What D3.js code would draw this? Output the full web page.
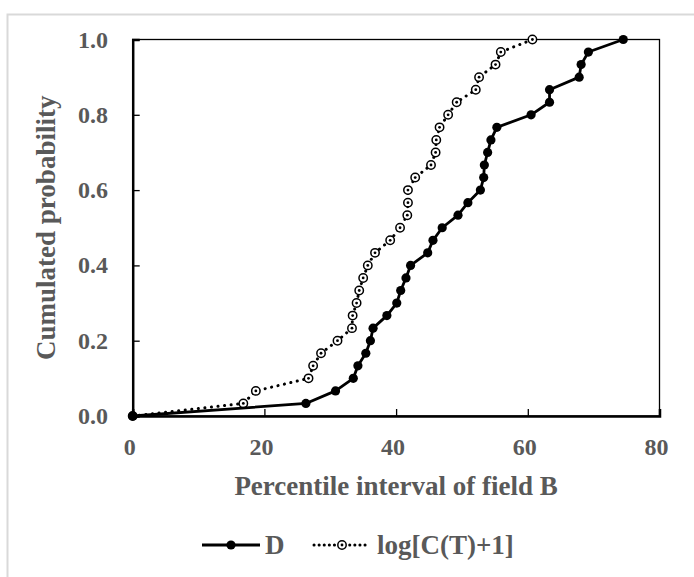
<!DOCTYPE html>
<html>
<head>
<meta charset="utf-8">
<script src="https://cdn.jsdelivr.net/npm/d3@7"></script>
<style>
  body { margin: 0; background: #fff; }
  svg { display: block; }
  text { font-family: "Liberation Serif", "Times New Roman", serif; font-weight: bold; fill: #595959; }
</style>
</head>
<body>
<svg id="chart" width="694" height="577"></svg>
<script>
// cumulative probability steps (k/30)
var probs = d3.range(31).map(function(k) { return k / 30; });

// percentile interval values, one per step
var dValues = [0, 26.3, 30.8, 33.5, 34.2, 35.4, 36.1, 36.5, 38.6, 40.1,
               40.7, 41.5, 42.2, 44.8, 45.6, 47.0, 49.4, 50.9, 52.8, 53.3,
               53.4, 53.9, 54.4, 55.3, 60.5, 63.3, 63.3, 67.8, 68.1, 69.2, 74.5];
var logValues = [0, 16.8, 18.7, 26.7, 27.4, 28.6, 31.1, 33.3, 33.4, 34.0,
                 34.4, 35.0, 35.7, 36.8, 39.1, 40.6, 41.7, 41.8, 41.8, 42.9,
                 45.3, 46.0, 46.1, 46.6, 47.9, 49.2, 52.1, 52.6, 55.1, 55.9, 60.7];

var xTicks = [0, 20, 40, 60, 80];
var yTicks = [0, 0.2, 0.4, 0.6, 0.8, 1.0];

var svg = d3.select('#chart');

// light outer frame
svg.append('path')
    .attr('d', 'M7.5,577 L7.5,14.5 L694,14.5')
    .attr('fill', 'none')
    .attr('stroke', '#d9d9d9')
    .attr('stroke-width', 2);

var plot = {l: 132.7, r: 659.5, t: 39.5, b: 416};

var xScale = d3.scaleLinear().domain([0, 80]).range([plot.l, plot.r]);
var yScale = d3.scaleLinear().domain([0, 1]).range([plot.b, plot.t]);

// plot box
svg.append('rect')
    .attr('x', plot.l).attr('y', plot.t)
    .attr('width', plot.r - plot.l).attr('height', plot.b - plot.t)
    .attr('fill', 'none')
    .attr('stroke', '#000')
    .attr('stroke-width', 1.3);

// axes with ticks pointing inside
var xAxisG = svg.append('g')
    .attr('transform', 'translate(0,' + plot.b + ')')
    .call(d3.axisTop(xScale).tickValues(xTicks).tickSize(7).tickFormat(''));
xAxisG.select('.domain').attr('stroke-width', 2.5);
xAxisG.selectAll('.tick line').attr('stroke-width', 1.3);

var yAxisG = svg.append('g')
    .attr('transform', 'translate(' + plot.l + ',0)')
    .call(d3.axisRight(yScale).tickValues(yTicks).tickSize(7).tickFormat(''));
yAxisG.select('.domain').attr('stroke-width', 2.5);
yAxisG.selectAll('.tick line').attr('stroke-width', 1.3);

// tick labels
svg.selectAll('.xlab')
    .data(xTicks).enter()
    .append('text')
    .attr('x', function(d) { return xScale(d) - 3; })
    .attr('y', 455)
    .attr('text-anchor', 'middle')
    .style('font-size', '24px')
    .text(function(d) { return d; });

svg.selectAll('.ylab')
    .data(yTicks).enter()
    .append('text')
    .attr('x', 108)
    .attr('y', function(d) { return yScale(d) + 8; })
    .attr('text-anchor', 'end')
    .style('font-size', '24px')
    .text(function(d) { return d3.format('.1f')(d); });

// axis titles
svg.append('text')
    .attr('x', (plot.l + plot.r) / 2)
    .attr('y', 495)
    .attr('text-anchor', 'middle')
    .style('font-size', '27px')
    .text('Percentile interval of field B');

svg.append('text')
    .attr('transform', 'translate(55,' + ((plot.t + plot.b) / 2) + ') rotate(-90)')
    .attr('text-anchor', 'middle')
    .style('font-size', '27px')
    .text('Cumulated probability');

var line = d3.line()
    .x(function(d) { return xScale(d[0]); })
    .y(function(d) { return yScale(d[1]); });

var dData = dValues.map(function(v, i) { return [v, probs[i]]; });
var logData = logValues.map(function(v, i) { return [v, probs[i]]; });

// dotted series
svg.append('path')
    .datum(logData)
    .attr('d', line)
    .attr('fill', 'none')
    .attr('stroke', '#000')
    .attr('stroke-width', 3)
    .attr('stroke-linecap', 'round')
    .attr('stroke-dasharray', '0.1 6.5');

function ringMarker(g, x, y) {
    g.append('circle')
        .attr('cx', x).attr('cy', y).attr('r', 4.2)
        .attr('fill', '#fff').attr('stroke', '#000').attr('stroke-width', 1.5);
    g.append('circle')
        .attr('cx', x).attr('cy', y).attr('r', 1.4)
        .attr('fill', '#000');
}

var logG = svg.append('g');
logData.forEach(function(d) {
    ringMarker(logG, xScale(d[0]), yScale(d[1]));
});

// solid series
svg.append('path')
    .datum(dData)
    .attr('d', line)
    .attr('fill', 'none')
    .attr('stroke', '#000')
    .attr('stroke-width', 2.8)
    .attr('stroke-linejoin', 'round');

svg.selectAll('.dDot')
    .data(dData).enter()
    .append('circle')
    .attr('cx', function(d) { return xScale(d[0]); })
    .attr('cy', function(d) { return yScale(d[1]); })
    .attr('r', 4.6)
    .attr('fill', '#000');

// legend
var legY = 545;
svg.append('line')
    .attr('x1', 202).attr('x2', 260).attr('y1', legY).attr('y2', legY)
    .attr('stroke', '#000').attr('stroke-width', 2.8);
svg.append('circle').attr('cx', 231).attr('cy', legY).attr('r', 4.6).attr('fill', '#000');
svg.append('text')
    .attr('x', 265).attr('y', legY + 9)
    .style('font-size', '27px')
    .text('D');

svg.append('line')
    .attr('x1', 314).attr('x2', 370).attr('y1', legY).attr('y2', legY)
    .attr('stroke', '#000').attr('stroke-width', 3)
    .attr('stroke-linecap', 'round')
    .attr('stroke-dasharray', '0.1 5');
ringMarker(svg.append('g'), 342, legY);
svg.append('text')
    .attr('x', 377).attr('y', legY + 9)
    .style('font-size', '27px')
    .text('log[C(T)+1]');
</script>
</body>
</html>
